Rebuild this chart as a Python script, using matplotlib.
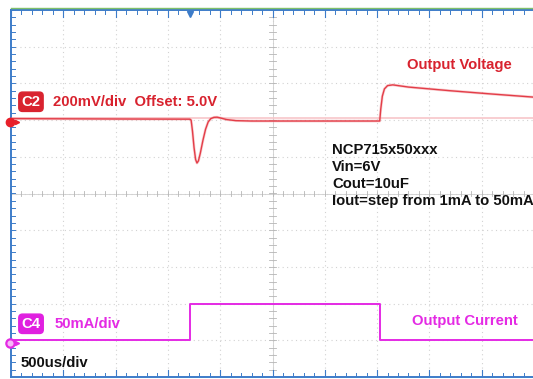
import matplotlib.pyplot as plt
import numpy as np

# --- scope settings ---
time_per_div = 500.0      # us/div
c2_scale = 200.0          # mV/div
c4_scale = 50.0           # mA/div
c2_pos = 2.0              # ground marker position (div)
c4_pos = -4.0

# --- C2: output voltage, deviation from 5.0 V offset (mV) ---
c2_t = [0, 1000, 1710, 1722, 1735, 1750, 1765, 1778, 1792, 1810, 1835, 1860,
        1885, 1910, 1940, 1970, 2000, 2060, 2150, 2300, 3000, 3525, 3535, 3550,
        3570, 3600, 3650, 3800, 4200, 4600, 5000]
c2_mv = [8, 6, 5, 0, -60, -150, -215, -234, -222, -180, -110, -50,
         -10, 8, 15, 16, 12, 3, -3, -5, -5, -5, 60, 130,
         170, 188, 192, 180, 160, 142, 125]

# --- C4: output current (mA) ---
c4_t = [0, 1710, 1710, 3530, 3530, 5000]
c4_ma = [1, 1, 50, 50, 1, 1]

RED = '#e33d48'
RED_TXT = '#d8222e'
MAG = '#e42ae4'
BLUE = '#3d7cc9'
GRID = '#d2d2d2'

fig = plt.figure(figsize=(5.33, 3.79), dpi=100)
fig.patch.set_facecolor('white')
ax = fig.add_axes([11 / 533, 2 / 379, 523 / 533, 367 / 379])
ax.set_xlim(0, 10)
ax.set_ylim(-5, 5)
ax.axis('off')

# dotted graticule
for gx in range(1, 10):
    ax.axvline(gx, color=GRID, lw=0.8, ls=(0, (1, 3)), zorder=1)
for gy in range(-4, 5):
    ax.axhline(gy, color=GRID, lw=0.8, ls=(0, (1, 3)), zorder=1)

# center axes with minor ticks
ax.axhline(0, color='#cfcfcf', lw=0.6, zorder=1)
ax.axvline(5, color='#cfcfcf', lw=0.6, zorder=1)
for mx in np.arange(0, 10.01, 0.2):
    ax.plot([mx, mx], [-0.06, 0.06], color='#b5b5b5', lw=0.6, zorder=1)
    ax.plot([mx, mx], [4.9, 5], color=BLUE, lw=0.7, zorder=2)
    ax.plot([mx, mx], [-5, -4.9], color=BLUE, lw=0.7, zorder=2)
for my in np.arange(-5, 5.01, 0.2):
    ax.plot([4.94, 5.06], [my, my], color='#b5b5b5', lw=0.6, zorder=1)
    ax.plot([0, 0.08], [my, my], color=BLUE, lw=0.7, zorder=2)
for gx in range(0, 11):
    ax.plot([gx, gx], [4.82, 5], color=BLUE, lw=0.8, zorder=2)
    ax.plot([gx, gx], [-5, -4.82], color=BLUE, lw=0.8, zorder=2)

# borders
ax.plot([0, 0], [-5, 5], color=BLUE, lw=1.4, zorder=3, clip_on=False)
ax.plot([0, 10.2], [5, 5], color=BLUE, lw=1.4, zorder=3, clip_on=False)
ax.plot([0, 10.2], [5.06, 5.06], color='#7fbf6a', lw=1.0, zorder=3, clip_on=False)
ax.plot([0, 10.2], [-5, -5], color=BLUE, lw=1.4, zorder=3, clip_on=False)

# trigger marker
ax.plot(1710 / time_per_div, 4.9, marker='v', color=BLUE, ms=4, zorder=4, clip_on=False)

# traces
c2_x = np.array(c2_t) / time_per_div
c2_y = c2_pos + np.array(c2_mv) / c2_scale
c4_x = np.array(c4_t) / time_per_div
c4_y = c4_pos + np.array(c4_ma) / c4_scale

ax.axhline(c2_pos + 0.05, color='#f7c6c9', lw=1.2, zorder=2)
ax.plot(c2_x, c2_y, color='#f2979c', lw=2.0, alpha=0.45, zorder=4)
ax.plot(c2_x, c2_y, color=RED, lw=1.0, zorder=5)
ax.plot(c4_x, c4_y, color=MAG, lw=1.4, zorder=5)

# channel ground markers
ax.plot(-0.02, c2_pos - 0.05, marker='o', color='#e8202a', ms=6, zorder=6, clip_on=False)
ax.plot(0.12, c2_pos - 0.05, marker='>', color='#e8202a', ms=3, zorder=6, clip_on=False)
ax.plot(-0.02, c4_pos - 0.08, marker='o', color=MAG, ms=6, mfc='#f7b8f7', mew=1.6, zorder=6, clip_on=False)
ax.plot(0.12, c4_pos - 0.08, marker='>', color=MAG, ms=3, zorder=6, clip_on=False)

# labels
fs = 10.7
fam = 'Liberation Sans'


def badge(x, y, text, color):
    ax.text(x, y, text, color='white', fontsize=fs, fontweight='bold', family=fam,
            ha='left', va='center', zorder=7,
            bbox=dict(boxstyle='round,pad=0.18,rounding_size=0.25', fc=color, ec=color))


badge(0.2, 2.5, 'C2', '#d9232f')
ax.text(0.8, 2.5, '200mV/div  Offset: 5.0V', color=RED_TXT, fontsize=fs, fontweight='bold',
        family=fam, ha='left', va='center', zorder=7)
badge(0.2, -3.55, 'C4', '#e020e0')
ax.text(0.84, -3.55, '50mA/div', color=MAG, fontsize=fs, fontweight='bold',
        family=fam, ha='left', va='center', zorder=7)
ax.text(0.18, -4.63, '500us/div', color='#111111', fontsize=fs, fontweight='bold',
        family=fam, ha='left', va='center', zorder=7)

ax.text(7.58, 3.5, 'Output Voltage', color=RED_TXT, fontsize=fs, fontweight='bold',
        family=fam, ha='left', va='center', zorder=7)
ax.text(7.66, -3.48, 'Output Current', color=MAG, fontsize=fs, fontweight='bold',
        family=fam, ha='left', va='center', zorder=7)

info = ['NCP715x50xxx', 'Vin=6V', 'Cout=10uF', 'Iout=step from 1mA to 50mA']
for i, line in enumerate(info):
    ax.text(6.14, 1.18 - i * 0.465, line, color='#111111', fontsize=fs, fontweight='bold',
            family=fam, ha='left', va='center', zorder=7)

fig.savefig('out.png', dpi=100)
